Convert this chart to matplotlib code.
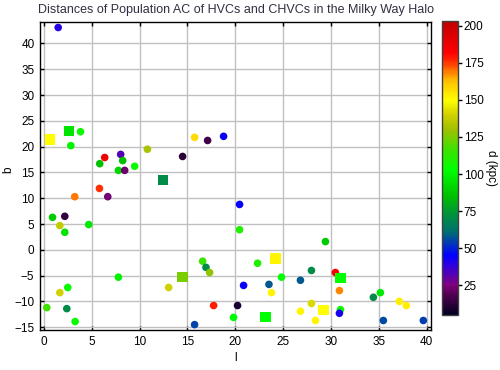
import matplotlib
matplotlib.use("Agg")
import matplotlib.pyplot as plt
from matplotlib.colors import LinearSegmentedColormap, Normalize
from matplotlib.cm import ScalarMappable

plt.rcParams['font.family'] = ['Liberation Sans', 'DejaVu Sans']

title = "Distances of Population AC of HVCs and CHVCs in the Milky Way Halo"

# HVCs (circles): galactic longitude l, latitude b, distance d (kpc)
hvc_l = [1.50, 3.83, 2.82, 5.84, 6.36, 8.03, 8.24, 7.79, 8.45, 9.49,
         10.82, 14.50, 15.75, 17.11, 18.78, 5.81, 6.68, 3.23, 0.91, 2.19,
         1.67, 2.19, 4.69, 7.79, 13.04, 16.59, 16.94, 17.32, 20.45, 20.45,
         20.87, 17.74, 20.24, 19.82, 15.75, 0.31, 2.40, 3.27, 1.67, 2.50,
         29.42, 22.33, 27.96, 30.46, 24.83, 26.81, 23.52, 23.79, 30.88, 34.43,
         35.16, 37.14, 37.87, 27.96, 26.81, 30.99, 30.88, 28.38, 35.47, 39.65]
hvc_b = [43.1, 22.9, 20.2, 16.7, 17.9, 18.5, 17.3, 15.4, 15.4, 16.2,
         19.5, 18.1, 21.8, 21.2, 22.0, 11.9, 10.3, 10.3, 6.3, 6.5,
         4.7, 3.4, 4.9, -5.3, -7.3, -2.2, -3.4, -4.4, 8.8, 3.9,
         -6.9, -10.8, -10.8, -13.1, -14.5, -11.2, -11.4, -13.9, -8.3, -7.3,
         1.6, -2.6, -4.0, -4.4, -5.3, -5.9, -6.7, -8.3, -7.9, -9.2,
         -8.3, -10.0, -10.8, -10.4, -11.9, -11.6, -12.3, -13.7, -13.7, -13.7]
hvc_d = [40, 105, 100, 85, 188, 32, 85, 92, 22, 105,
         132, 12, 157, 16, 44, 176, 24, 170, 88, 14,
         137, 95, 97, 100, 140, 115, 70, 128, 44, 110,
         44, 178, 10, 102, 55, 117, 70, 105, 140, 105,
         88, 110, 70, 183, 103, 58, 58, 152, 168, 70,
         97, 153, 153, 142, 152, 105, 42, 152, 56, 54]

# CHVCs (squares)
chvc_l = [0.63, 2.61, 12.42, 14.50, 24.20, 30.99, 29.21, 23.16]
chvc_b = [21.4, 23.1, 13.6, -5.2, -1.7, -5.5, -11.7, -13.0]
chvc_d = [150, 95, 70, 125, 152, 103, 150, 103]

x_ticks = list(range(0, 41, 5))
y_ticks = list(range(-15, 41, 5))
cb_ticks = list(range(25, 201, 25))

vmin, vmax = 4.8, 203.4
stops = [(vmin, "#000020"), (18, "#500050"), (25, "#800080"), (38, "#3000e0"),
         (45, "#0000ff"), (61, "#007070"), (72, "#009040"), (85, "#00c000"),
         (103, "#00ff00"), (117, "#40e000"), (130, "#a0c000"), (140, "#d0d000"),
         (150, "#ffff00"), (163, "#ffc000"), (169, "#ff8000"), (176, "#ff3000"),
         (182, "#ff0000"), (vmax, "#c00000")]
cmap = LinearSegmentedColormap.from_list(
    "dist", [((v - vmin) / (vmax - vmin), c) for v, c in stops])
norm = Normalize(vmin=vmin, vmax=vmax)

fig = plt.figure(figsize=(5.0, 3.7), dpi=100)
ax = fig.add_axes([0.080, 0.108, 0.782, 0.833])
ax.set_axisbelow(True)
ax.grid(True, color="#c0c0c0", linewidth=1.0)
ax.scatter(hvc_l, hvc_b, c=hvc_d, cmap=cmap, norm=norm, marker='o', s=30,
           linewidths=0, zorder=3)
ax.scatter(chvc_l, chvc_b, c=chvc_d, cmap=cmap, norm=norm, marker='s', s=55,
           linewidths=0, zorder=4)
ax.set_xlim(-0.4, 40.45)
ax.set_ylim(-15.55, 44.2)
ax.set_xticks(x_ticks)
ax.set_yticks(y_ticks)
ax.tick_params(direction='in', length=3, width=1, top=True, right=True,
               labelsize=8.5, colors='black', pad=4)
for s in ax.spines.values():
    s.set_linewidth(1.0)
ax.set_xlabel("l", fontsize=8.5, labelpad=3)
ax.set_ylabel("b", fontsize=8.5)
ax.yaxis.set_label_coords(-0.066, 0.52)
ax.set_title(title, fontsize=9, color="#303040", pad=6)

cax = fig.add_axes([0.883, 0.1486, 0.033, 0.795])
cb = fig.colorbar(ScalarMappable(norm=norm, cmap=cmap), cax=cax, ticks=cb_ticks)
cb.outline.set_edgecolor("#404040")
cb.outline.set_linewidth(1.0)
cax.tick_params(labelsize=8.5, length=3, width=1, pad=1)
cb.set_label("d (kpc)", rotation=270, fontsize=8.5, labelpad=10)

fig.savefig("out.png", dpi=100)
